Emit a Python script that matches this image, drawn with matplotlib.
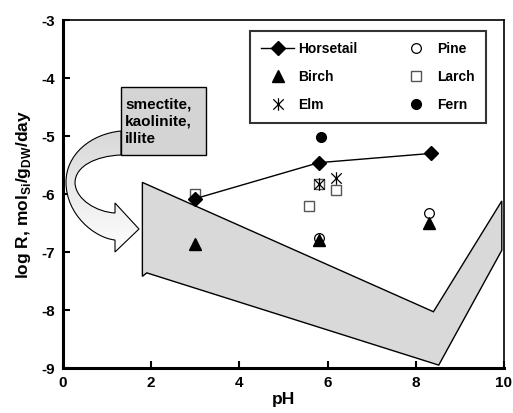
import numpy as np
import matplotlib
matplotlib.use("Agg")
import matplotlib.pyplot as plt
from matplotlib.path import Path
from matplotlib.patches import PathPatch, Polygon, Rectangle
from matplotlib.colors import LinearSegmentedColormap

plt.rcParams['font.family'] = ['Liberation Sans', 'DejaVu Sans']
plt.rcParams['font.weight'] = 'bold'
plt.rcParams['mathtext.fontset'] = 'custom'
plt.rcParams['mathtext.rm'] = 'Liberation Sans:bold'
plt.rcParams['mathtext.bf'] = 'Liberation Sans:bold'
plt.rcParams['axes.unicode_minus'] = False

# ---- data ----
horsetail_x = [3.0, 5.8, 8.35]
horsetail_y = [-6.08, -5.46, -5.30]
birch_x = [3.0, 5.8, 8.3]
birch_y = [-6.87, -6.80, -6.50]
elm_x = [5.8, 6.2]
elm_y = [-5.82, -5.72]
pine_x = [5.8, 8.3]
pine_y = [-6.76, -6.33]
larch_x = [3.0, 5.58, 5.8, 6.2]
larch_y = [-6.0, -6.20, -5.82, -5.93]
fern_x = [5.85]
fern_y = [-5.02]

# clay mineral (smectite, kaolinite, illite) rate region
clay_x = [1.8, 8.4, 9.95, 9.95, 8.52, 1.9, 1.8]
clay_y = [-5.8, -8.03, -6.12, -6.97, -8.95, -7.36, -7.42]

xticks = [0, 2, 4, 6, 8, 10]
yticks = [-3, -4, -5, -6, -7, -8, -9]

W, H = 513, 413
fig = plt.figure(figsize=(W / 100, H / 100), dpi=100)
L, R, T, B = 63, 504, 20, 368
ax = fig.add_axes([L / W, (H - B) / H, (R - L) / W, (B - T) / H])
ax.set_xlim(0, 10)
ax.set_ylim(-9, -3)


def px(x, y):
    return (x - L) / (R - L) * 10, -3 - (y - T) / (B - T) * 6


# gray region
ax.add_patch(Polygon(np.column_stack([clay_x, clay_y]), closed=True,
                     facecolor='#d9d9d9', edgecolor='black', lw=1.0, zorder=1))

# curved arrow from box to region
verts_px = [
    (121, 131),
    (90, 134), (66, 155), (66, 182),
    (66, 215), (95, 238), (115, 240),
    (115, 252),
    (139, 229),
    (115, 203),
    (115, 213),
    (97, 212), (76, 200), (75, 183),
    (75, 166), (96, 156), (121, 155),
    (121, 131),
]
codes = [Path.MOVETO,
         Path.CURVE4, Path.CURVE4, Path.CURVE4,
         Path.CURVE4, Path.CURVE4, Path.CURVE4,
         Path.LINETO, Path.LINETO, Path.LINETO, Path.LINETO,
         Path.CURVE4, Path.CURVE4, Path.CURVE4,
         Path.CURVE4, Path.CURVE4, Path.CURVE4,
         Path.CLOSEPOLY]
arrow_path = Path([px(*v) for v in verts_px], codes)
arrow = PathPatch(arrow_path, facecolor='none', edgecolor='black', lw=0.8, zorder=3)
ax.add_patch(arrow)
grad = np.linspace(0, 1, 200).reshape(-1, 1)
cmap = LinearSegmentedColormap.from_list('g', ['#d6d6d6', '#ffffff'])
x0, y0 = px(60, 125)
x1, y1 = px(145, 255)
im = ax.imshow(grad, extent=[x0, x1, y1, y0], origin='upper', cmap=cmap,
               aspect='auto', zorder=2, interpolation='bilinear')
im.set_clip_path(arrow)

# label box
bx0, by0 = px(121, 155)
bx1, by1 = px(206, 87)
ax.add_patch(Rectangle((bx0, by0), bx1 - bx0, by1 - by0, facecolor='#d4d4d4',
                       edgecolor='black', lw=1.0, zorder=4))
tx, ty = px(125, 122)
ax.text(tx, ty, 'smectite,\nkaolinite,\nillite', fontsize=11, fontweight='bold',
        ha='left', va='center', linespacing=1.3, zorder=5)
ax.set_ylim(-9, -3)
ax.set_xlim(0, 10)

# elm marker: X with vertical line
elm_marker = Path([(-1, -1), (1, 1), (-1, 1), (1, -1), (0, -1.2), (0, 1.2)],
                  [Path.MOVETO, Path.LINETO, Path.MOVETO, Path.LINETO,
                   Path.MOVETO, Path.LINETO])

ax.plot(horsetail_x, horsetail_y, '-', color='black', lw=1.0, marker='D',
        ms=7, mfc='black', mec='black', label='Horsetail', zorder=6)
ax.plot(birch_x, birch_y, ls='none', marker='^', ms=8, color='black',
        label='Birch', zorder=6)
ax.plot(elm_x, elm_y, ls='none', marker=elm_marker, ms=9, color='black',
        mew=0.9, label='Elm', zorder=6)
ax.plot(pine_x, pine_y, ls='none', marker='o', ms=7, mfc='white',
        mec='black', mew=0.9, label='Pine', zorder=5)
ax.plot(larch_x, larch_y, ls='none', marker='s', ms=7, mfc='none',
        mec='#555555', mew=1.0, label='Larch', zorder=5)
ax.plot(fern_x, fern_y, ls='none', marker='o', ms=7, color='black',
        label='Fern', zorder=6)

leg = ax.legend(ncol=2, loc='upper left', bbox_to_anchor=(0.424, 0.968),
                frameon=True, fancybox=False, edgecolor='black',
                fontsize=10, handlelength=2.4, handletextpad=0.3,
                columnspacing=3.0, labelspacing=1.0, borderpad=0.8,
                borderaxespad=0.0)
leg.get_frame().set_linewidth(1.5)
for t in leg.get_texts():
    t.set_fontweight('bold')

ax.set_xticks(xticks)
ax.set_yticks(yticks)
ax.tick_params(direction='in', length=5, width=1.5, labelsize=11, pad=6)
for lab in ax.get_xticklabels() + ax.get_yticklabels():
    lab.set_fontweight('bold')
for s in ['left', 'bottom']:
    ax.spines[s].set_linewidth(2.2)
for s in ['top', 'right']:
    ax.spines[s].set_linewidth(1.2)

ax.set_xlabel('pH', fontsize=12.5, fontweight='bold', labelpad=1)
ax.set_ylabel(r'log R, mol$_{\mathrm{Si}}$/g$_{\mathrm{DW}}$/day', fontsize=12.5,
              fontweight='bold', labelpad=6)

fig.savefig('out.png', dpi=100)
